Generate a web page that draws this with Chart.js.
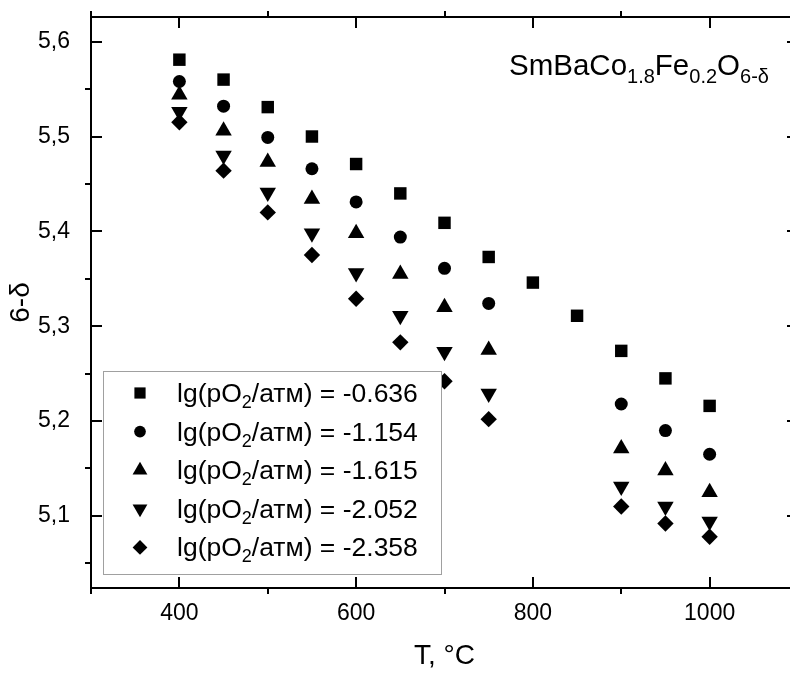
<!DOCTYPE html>
<html>
<head>
<meta charset="utf-8">
<script src="https://cdn.jsdelivr.net/npm/chart.js@4/dist/chart.umd.min.js"></script>
<style>
  html, body { margin: 0; padding: 0; background: #fff; overflow: hidden; }
  #wrap { width: 790px; height: 673px; overflow: hidden; }
</style>
</head>
<body>
<div id="wrap"><canvas id="c" width="810" height="673"></canvas></div>
<script>
// temperatures, °C
const temps = [400, 450, 500, 550, 600, 650, 700, 750, 800, 850, 900, 950, 1000]

// 6-delta for each lg(pO2/atm); null = not measured
const s0636 = [5.581, 5.560, 5.531, 5.500, 5.471, 5.440, 5.409, 5.373, 5.346, 5.311, 5.274, 5.245, 5.216]
const s1154 = [5.558, 5.532, 5.499, 5.466, 5.431, 5.394, 5.361, 5.324, null, null, 5.218, 5.190, 5.165]
const s1615 = [5.544, 5.506, 5.473, 5.434, 5.398, 5.355, 5.320, 5.275, null, null, 5.171, 5.148, 5.125]
const s2052 = [5.526, 5.480, 5.441, 5.398, 5.356, 5.311, 5.273, 5.229, null, null, 5.131, 5.110, 5.094]
const s2358 = [5.515, 5.464, 5.420, 5.375, 5.329, 5.283, 5.242, 5.202, null, null, 5.110, 5.092, 5.078]

const seriesValues = [s0636, s1154, s1615, s2052, s2358]
const pressures = ['-0.636', '-1.154', '-1.615', '-2.052', '-2.358']

const FONT = '"Liberation Sans", Arial, sans-serif'

// marker look per series
const markers = [
  { pointStyle: 'rect', radius: 8.8, rotation: 0 },
  { pointStyle: 'circle', radius: 6.5, rotation: 0 },
  { pointStyle: 'triangle', radius: 9.5, rotation: 0 },
  { pointStyle: 'triangle', radius: 9.5, rotation: 180 },
  { pointStyle: 'rectRot', radius: 8.2, rotation: 0 }
]

const datasets = seriesValues.map((vals, i) => ({
  label: 'lg(pO2/атм) = ' + pressures[i],
  data: temps.map((t, j) => ({ x: t, y: vals[j] })).filter(p => p.y !== null),
  showLine: false,
  pointStyle: markers[i].pointStyle,
  pointRadius: markers[i].radius,
  pointHoverRadius: markers[i].radius,
  pointRotation: markers[i].rotation,
  backgroundColor: '#000',
  borderColor: '#000',
  borderWidth: 0
}))

// draw text where some parts are subscripts; parts = [[text, isSub], ...]
function richText(ctx, parts, x, y, size, subSize, subDrop) {
  ctx.textBaseline = 'alphabetic'
  ctx.textAlign = 'left'
  for (const [t, sub] of parts) {
    ctx.font = (sub ? subSize : size) + 'px ' + FONT
    ctx.fillText(t, x, sub ? y + subDrop : y)
    x += ctx.measureText(t).width
  }
}

const isMajorY = v => Math.round(v * 100) % 10 === 0

const framePlugin = {
  id: 'frame',
  afterDatasetsDraw(chart) {
    const { ctx, chartArea: a, scales } = chart
    ctx.save()
    ctx.strokeStyle = '#000'
    ctx.lineWidth = 2
    ctx.strokeRect(a.left, a.top, a.right - a.left, a.bottom - a.top)

    // major ticks point in, minor ticks point out
    ctx.beginPath()
    for (const t of scales.x.ticks) {
      const px = Math.round(scales.x.getPixelForValue(t.value))
      if (t.value % 200 === 0) {
        ctx.moveTo(px, a.bottom); ctx.lineTo(px, a.bottom - 11)
        ctx.moveTo(px, a.top); ctx.lineTo(px, a.top + 11)
      } else {
        ctx.moveTo(px, a.bottom); ctx.lineTo(px, a.bottom + 6)
        ctx.moveTo(px, a.top); ctx.lineTo(px, a.top - 6)
      }
    }
    for (const t of scales.y.ticks) {
      const py = Math.round(scales.y.getPixelForValue(t.value))
      if (isMajorY(t.value)) {
        ctx.moveTo(a.left, py); ctx.lineTo(a.left + 11, py)
        ctx.moveTo(a.right, py); ctx.lineTo(a.right - 11, py)
      } else {
        ctx.moveTo(a.left, py); ctx.lineTo(a.left - 6, py)
        ctx.moveTo(a.right, py); ctx.lineTo(a.right + 6, py)
      }
    }
    ctx.stroke()
    ctx.restore()
  },
  afterDraw(chart) {
    const { ctx } = chart
    ctx.save()
    ctx.fillStyle = '#000'

    // compound label
    richText(ctx, [['SmBaCo', false], ['1.8', true], ['Fe', false], ['0.2', true], ['O', false], ['6-δ', true]],
      509, 75, 29.5, 20, 8)

    // legend box, drawn over the points
    const bx = 103, by = 371, bw = 338, bh = 203
    ctx.fillStyle = '#fff'
    ctx.fillRect(bx, by, bw, bh)
    ctx.strokeStyle = '#a0a0a0'
    ctx.lineWidth = 1
    ctx.strokeRect(bx + 0.5, by + 0.5, bw, bh)

    ctx.strokeStyle = '#000'
    chart.data.datasets.forEach((ds, i) => {
      const cy = 393 + i * 38.6
      ctx.fillStyle = '#000'
      Chart.helpers.drawPoint(ctx, {
        pointStyle: ds.pointStyle, radius: ds.pointRadius * 0.9,
        rotation: ds.pointRotation, borderWidth: 0
      }, 140, cy)
      const p = ds.label.split('pO2')
      richText(ctx, [[p[0] + 'pO', false], ['2', true], [p[1], false]], 177, cy + 9, 26.5, 18, 6)
    })
    ctx.restore()
  }
}

new Chart(document.getElementById('c'), {
  type: 'scatter',
  data: { datasets },
  plugins: [framePlugin],
  options: {
    responsive: false,
    animation: false,
    events: [],
    layout: { padding: { top: 17, right: 12, left: 0, bottom: 0 } },
    plugins: { legend: { display: false }, tooltip: { enabled: false } },
    scales: {
      x: {
        type: 'linear',
        min: 300, max: 1100,
        grid: { display: false },
        border: { display: false },
        afterFit: s => { s.height = 85; s.paddingLeft = 0; s.paddingRight = 0 },
        ticks: {
          stepSize: 100, autoSkip: false, maxRotation: 0, padding: 4,
          color: '#000', font: { family: FONT, size: 23 },
          callback: v => (v % 200 === 0 ? String(v) : '')
        },
        title: {
          display: true, text: 'T, °C', color: '#000',
          font: { family: FONT, size: 28 }, padding: { top: 0, bottom: 0 }
        }
      },
      y: {
        type: 'linear',
        min: 5.024, max: 5.626,
        grid: { display: false },
        border: { display: false },
        afterFit: s => { s.width = 91; s.paddingTop = 0; s.paddingBottom = 0 },
        ticks: {
          stepSize: 0.05, includeBounds: false, autoSkip: false, padding: 13,
          color: '#000', font: { family: FONT, size: 23 },
          callback: v => (isMajorY(v) ? v.toFixed(1).replace('.', ',') : '')
        },
        title: {
          display: true, text: '6-δ', color: '#000',
          font: { family: FONT, size: 28 }, padding: { top: 4, bottom: 0 }
        }
      }
    }
  }
})
</script>
</body>
</html>
